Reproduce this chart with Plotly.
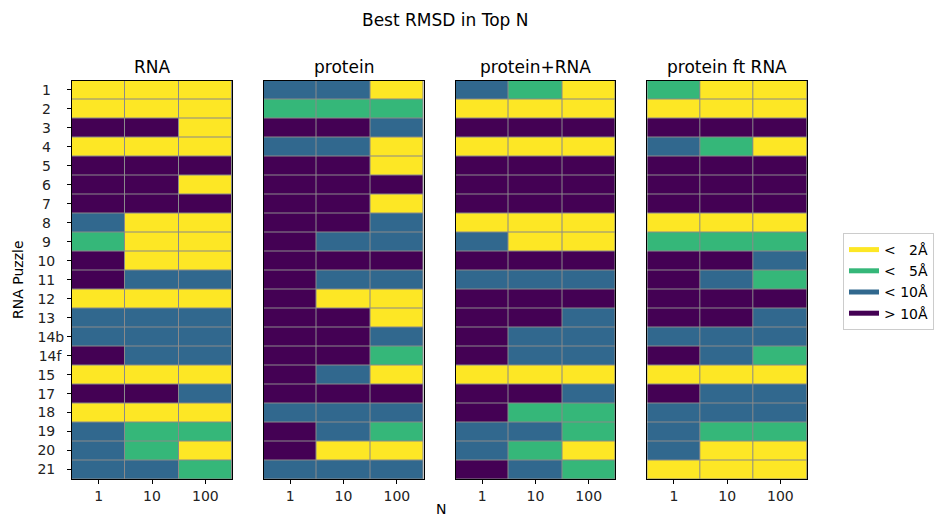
import plotly.graph_objects as go

# ---------------- data ----------------
puzzles = ["1", "2", "3", "4", "5", "6", "7", "8", "9", "10", "11", "12", "13",
           "14b", "14f", "15", "17", "18", "19", "20", "21"]
top_n = ["1", "10", "100"]
panel_titles = ["RNA", "protein", "protein+RNA", "protein ft RNA"]
class_labels = ["<\u00a0\u20072Å", "<\u00a0\u20075Å", "<\u00a010Å", ">\u00a010Å"]
class_colors = ["#fde725", "#35b779", "#31688e", "#440154"]

# class index: 0 = <2Å, 1 = <5Å, 2 = <10Å, 3 = >10Å
rna = [[0, 0, 0], [0, 0, 0], [3, 3, 0], [0, 0, 0], [3, 3, 3], [3, 3, 0], [3, 3, 3],
       [2, 0, 0], [1, 0, 0], [3, 0, 0], [3, 2, 2], [0, 0, 0], [2, 2, 2], [2, 2, 2],
       [3, 2, 2], [0, 0, 0], [3, 3, 2], [0, 0, 0], [2, 1, 1], [2, 1, 0], [2, 2, 1]]
protein = [[2, 2, 0], [1, 1, 1], [3, 3, 2], [2, 2, 0], [3, 3, 0], [3, 3, 3], [3, 3, 0],
           [3, 3, 2], [3, 2, 2], [3, 3, 3], [3, 2, 2], [3, 0, 0], [3, 3, 0], [3, 3, 2],
           [3, 3, 1], [3, 2, 0], [3, 3, 3], [2, 2, 2], [3, 2, 1], [3, 0, 0], [2, 2, 2]]
protein_rna = [[2, 1, 0], [0, 0, 0], [3, 3, 3], [0, 0, 0], [3, 3, 3], [3, 3, 3], [3, 3, 3],
               [0, 0, 0], [2, 0, 0], [3, 3, 3], [2, 2, 2], [3, 3, 3], [3, 3, 2], [3, 2, 2],
               [3, 2, 2], [0, 0, 0], [3, 3, 2], [3, 1, 1], [2, 2, 1], [2, 1, 0], [3, 2, 1]]
protein_ft_rna = [[1, 0, 0], [0, 0, 0], [3, 3, 3], [2, 1, 0], [3, 3, 3], [3, 3, 3], [3, 3, 3],
                  [0, 0, 0], [1, 1, 1], [3, 3, 2], [3, 2, 1], [3, 3, 3], [3, 3, 2], [2, 2, 2],
                  [3, 2, 1], [0, 0, 0], [3, 2, 2], [2, 2, 2], [2, 1, 1], [2, 0, 0], [0, 0, 0]]
panels = [rna, protein, protein_rna, protein_ft_rna]

# ---------------- styling ----------------
FONT = "DejaVu Sans"
W, H = 937, 519
x_domains = [(72, 232), (263.5, 423.5), (455.5, 615.3), (647.3, 807)]
y_dom = [1 - 479 / H, 1 - 80.5 / H]

colorscale = [[0, class_colors[0]], [1 / 6, class_colors[0]],
              [1 / 6, class_colors[1]], [0.5, class_colors[1]],
              [0.5, class_colors[2]], [5 / 6, class_colors[2]],
              [5 / 6, class_colors[3]], [1, class_colors[3]]]


def pad_label(s):
    # emulate left-aligned look of the reference tick labels
    if len(s) == 1:
        return "\u00a0" + s + "\u2007\u2008"
    if s.isdigit():
        return s + "\u2007"
    if s.endswith("f"):
        return s + "\u2009"
    return s


fig = go.Figure()
layout = dict(
    width=W, height=H,
    margin=dict(l=0, r=0, t=0, b=0),
    paper_bgcolor="white",
    plot_bgcolor="#8a8a8a",
    font=dict(family=FONT, size=14, color="black"),
    showlegend=True,
)

annotations = []
for i, (data, title) in enumerate(zip(panels, panel_titles)):
    sfx = "" if i == 0 else str(i + 1)
    fig.add_trace(go.Heatmap(
        z=data, x=top_n, y=puzzles,
        xaxis="x" + sfx, yaxis="y" + sfx,
        colorscale=colorscale, zmin=0, zmax=3, showscale=False,
        xgap=1, ygap=1, hoverongaps=False,
    ))
    x0, x1 = x_domains[i]
    layout["xaxis" + sfx] = dict(
        domain=[x0 / W, x1 / W], anchor="y" + sfx,
        type="category", categoryorder="array", categoryarray=top_n,
        range=[-0.5, 2.5],
        showgrid=False, zeroline=False,
        showline=True, linecolor="black", linewidth=1, mirror=True,
        ticks="outside", ticklen=4, tickcolor="black", tickwidth=1,
        tickfont=dict(family=FONT, size=14, color="#222"),
        fixedrange=True,
    )
    layout["yaxis" + sfx] = dict(
        domain=y_dom, anchor="x" + sfx,
        type="category", categoryorder="array", categoryarray=puzzles,
        range=[len(puzzles) - 0.5, -0.5],
        showgrid=False, zeroline=False,
        showline=True, linecolor="black", linewidth=1, mirror=True,
        ticks="outside" if i == 0 else "", ticklen=4, tickcolor="black",
        showticklabels=(i == 0),
        tickvals=puzzles if i == 0 else None,
        ticktext=[pad_label(p) for p in puzzles] if i == 0 else None,
        tickfont=dict(family=FONT, size=14, color="#222"),
        fixedrange=True,
    )
    annotations.append(dict(
        text=title, x=(x0 + x1) / 2 / W, y=1 - 67 / H,
        xref="paper", yref="paper", xanchor="center", yanchor="middle",
        showarrow=False, font=dict(family=FONT, size=17, color="black"),
    ))

layout["yaxis"]["title"] = dict(text="RNA Puzzle", standoff=10,
                                font=dict(family=FONT, size=14, color="black"))

annotations.append(dict(
    text="Best RMSD in Top N", x=445 / W, y=1 - 20 / H,
    xref="paper", yref="paper", xanchor="center", yanchor="middle",
    showarrow=False, font=dict(family=FONT, size=17, color="black"),
))
annotations.append(dict(
    text="N", x=441 / W, y=1 - 509 / H,
    xref="paper", yref="paper", xanchor="center", yanchor="middle",
    showarrow=False, font=dict(family=FONT, size=14, color="black"),
))
layout["annotations"] = annotations

# legend (dummy line traces)
for lab, col in zip(class_labels, class_colors):
    fig.add_trace(go.Scatter(
        x=[None], y=[None], mode="lines", name=lab,
        line=dict(color=col, width=5), xaxis="x", yaxis="y",
        hoverinfo="skip",
    ))

layout["legend"] = dict(
    x=843 / W, y=1 - 233 / H, xanchor="left", yanchor="top",
    bgcolor="white", bordercolor="#cccccc", borderwidth=1,
    font=dict(family=FONT, size=14, color="black"),
    itemwidth=30, tracegroupgap=0,
)

fig.update_layout(**layout)
fig.write_html("out.html")
